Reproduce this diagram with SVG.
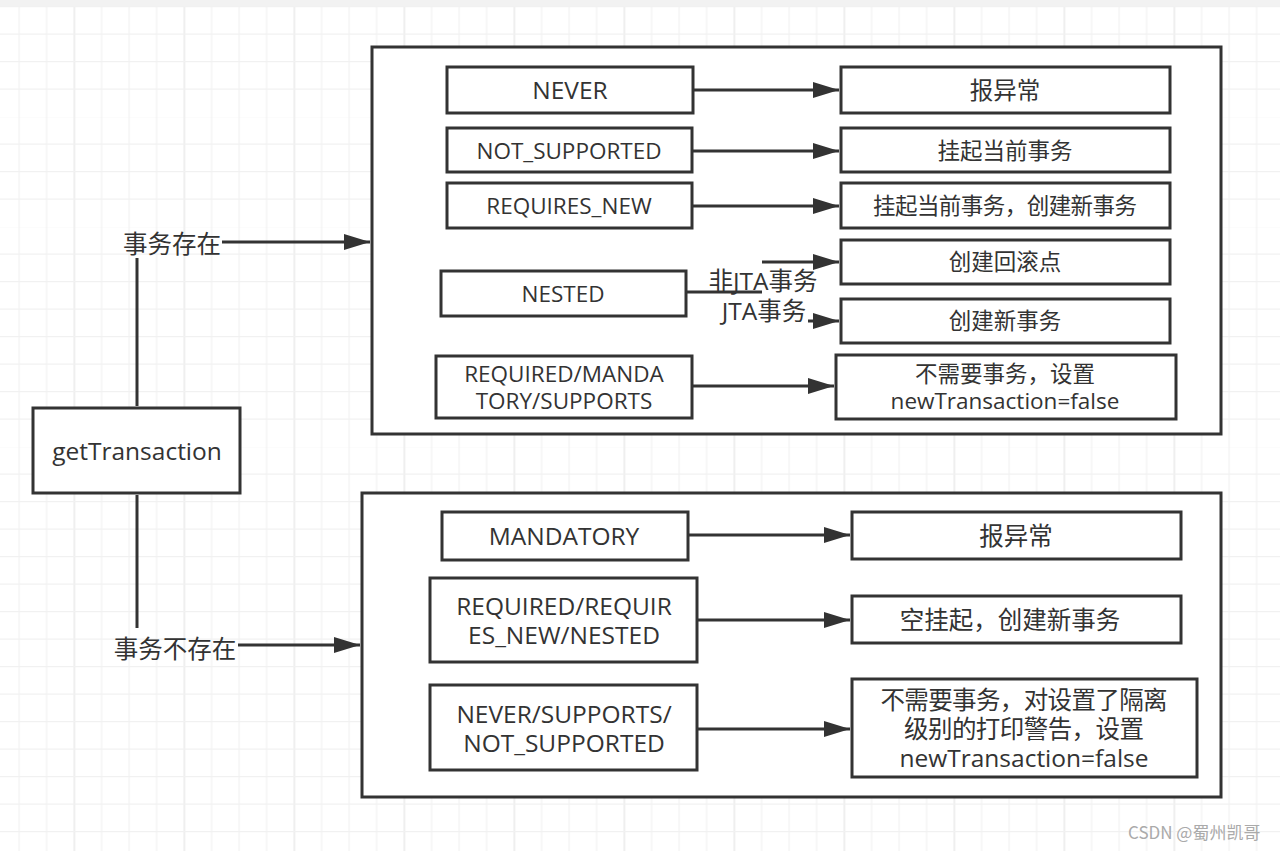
<svg xmlns="http://www.w3.org/2000/svg" width="1280" height="851" viewBox="0 0 1280 851">
<defs>
<pattern id="grid" patternUnits="userSpaceOnUse" x="18.5" y="6" width="110" height="110">
<rect x="0" y="0" width="110" height="110" fill="#ffffff"/>
<rect x="27.5" y="0" width="1.2" height="110" fill="#f1f1f1"/>
<rect x="55" y="0" width="1.6" height="110" fill="#ebebeb"/>
<rect x="82.5" y="0" width="1.2" height="110" fill="#f1f1f1"/>
<rect x="0" y="0" width="1.2" height="110" fill="#f1f1f1"/>
<rect x="0" y="27.5" width="110" height="1.2" fill="#f1f1f1"/>
<rect x="0" y="55" width="110" height="1.2" fill="#f1f1f1"/>
<rect x="0" y="82.5" width="110" height="1.2" fill="#f1f1f1"/>
<rect x="0" y="110" width="110" height="1.6" fill="#ebebeb"/>
<rect x="0" y="0" width="110" height="1.2" fill="#f1f1f1"/>
</pattern>
<marker id="arr" markerUnits="userSpaceOnUse" markerWidth="28" markerHeight="18" refX="26" refY="8" orient="auto">
<path d="M0,0 L26,8 L0,16 z" fill="#333333"/>
</marker>
</defs>
<style>
.box{fill:#ffffff;stroke:#333333;stroke-width:3}
.t{font-family:"Open Sans","Noto Sans CJK SC",sans-serif;font-size:22.5px;fill:#333333;text-anchor:middle}
.b{font-family:"Open Sans","Noto Sans CJK SC",sans-serif;font-size:24.5px;fill:#333333;text-anchor:middle}
.lbl{font-family:"Open Sans","Noto Sans CJK SC",sans-serif;font-size:24.5px;fill:#333333;text-anchor:middle}
.ln{fill:none;stroke:#333333;stroke-width:3}
.wm{font-family:"Noto Sans CJK SC",sans-serif;font-size:17px;fill:#aaaaaa}
</style>
<rect x="0" y="0" width="1280" height="851" fill="url(#grid)"/>
<rect x="0" y="0" width="1280" height="6" fill="#f2f2f2"/>

<g id="group-exists">
<rect class="box" x="372" y="47" width="849" height="387"/>
</g>
<g id="group-notexists">
<rect class="box" x="362" y="493" width="859" height="304"/>
</g>

<g id="getTransaction">
<rect class="box" x="33" y="408" width="207" height="85"/>
<text class="b" x="137" y="460">getTransaction</text>
</g>

<g id="never">
<rect class="box" x="447" y="67" width="246" height="46"/>
<text class="t" x="570" y="99" style="font-size:24.5px">NEVER</text>
</g>
<g id="never-result">
<rect class="box" x="841" y="67" width="329" height="46"/>
<text class="t" x="1005" y="99" style="font-size:23.5px">报异常</text>
</g>

<g id="not-supported">
<rect class="box" x="447" y="128" width="245" height="44"/>
<text class="t" x="569" y="159">NOT_SUPPORTED</text>
</g>
<g id="not-supported-result">
<rect class="box" x="841" y="128" width="329" height="44"/>
<text class="t" x="1005" y="159">挂起当前事务</text>
</g>

<g id="requires-new">
<rect class="box" x="447" y="183" width="245" height="45"/>
<text class="t" x="569" y="214">REQUIRES_NEW</text>
</g>
<g id="requires-new-result">
<rect class="box" x="841" y="183" width="329" height="45"/>
<text class="t" x="1005" y="214" textLength="264">挂起当前事务，创建新事务</text>
</g>

<g id="nested">
<rect class="box" x="441" y="271" width="245" height="45"/>
<text class="t" x="563" y="302">NESTED</text>
</g>
<g id="nested-savepoint">
<rect class="box" x="841" y="240" width="329" height="44"/>
<text class="t" x="1005" y="270">创建回滚点</text>
</g>
<g id="nested-new">
<rect class="box" x="841" y="299" width="329" height="44"/>
<text class="t" x="1005" y="329">创建新事务</text>
</g>

<g id="required-mandatory-supports">
<rect class="box" x="436" y="356" width="256" height="62"/>
<text class="t" x="564" y="382">REQUIRED/MANDA</text>
<text class="t" x="564" y="409">TORY/SUPPORTS</text>
</g>
<g id="required-result">
<rect class="box" x="836" y="355" width="340" height="64"/>
<text class="t" x="1005" y="382" textLength="180">不需要事务，设置</text>
<text class="t" x="1005" y="409">newTransaction=false</text>
</g>

<g id="mandatory">
<rect class="box" x="442" y="512" width="246" height="48"/>
<text class="b" x="564" y="545">MANDATORY</text>
</g>
<g id="mandatory-result">
<rect class="box" x="852" y="512" width="329" height="47"/>
<text class="b" x="1016" y="545">报异常</text>
</g>

<g id="required-requiresnew-nested">
<rect class="box" x="430" y="578" width="267" height="84"/>
<text class="b" x="564" y="615">REQUIRED/REQUIR</text>
<text class="b" x="564" y="644">ES_NEW/NESTED</text>
</g>
<g id="required-requiresnew-nested-result">
<rect class="box" x="852" y="596" width="329" height="47"/>
<text class="b" x="1010" y="629">空挂起，创建新事务</text>
</g>

<g id="never-supports-notsupported">
<rect class="box" x="430" y="685" width="267" height="85"/>
<text class="b" x="564" y="723">NEVER/SUPPORTS/</text>
<text class="b" x="564" y="752">NOT_SUPPORTED</text>
</g>
<g id="never-supports-notsupported-result">
<rect class="box" x="852" y="679" width="345" height="98"/>
<text class="b" x="1024" y="709" textLength="287">不需要事务，对设置了隔离</text>
<text class="b" x="1024" y="738" textLength="240">级别的打印警告，设置</text>
<text class="b" x="1024" y="767">newTransaction=false</text>
</g>

<g id="connectors">
<line class="ln" x1="137" y1="406" x2="137" y2="258"/>
<line class="ln" x1="222" y1="242" x2="370" y2="242" marker-end="url(#arr)"/>
<line class="ln" x1="137" y1="495" x2="137" y2="628"/>
<line class="ln" x1="238" y1="645" x2="360" y2="645" marker-end="url(#arr)"/>

<line class="ln" x1="693" y1="90" x2="839" y2="90" marker-end="url(#arr)"/>
<line class="ln" x1="692" y1="151" x2="839" y2="151" marker-end="url(#arr)"/>
<line class="ln" x1="692" y1="206" x2="839" y2="206" marker-end="url(#arr)"/>
<line class="ln" x1="686" y1="292" x2="762" y2="292"/>
<line class="ln" x1="762" y1="262" x2="839" y2="262" marker-end="url(#arr)"/>
<line class="ln" x1="808" y1="321" x2="839" y2="321" marker-end="url(#arr)"/>
<line class="ln" x1="692" y1="386" x2="834" y2="386" marker-end="url(#arr)"/>

<line class="ln" x1="688" y1="535" x2="850" y2="535" marker-end="url(#arr)"/>
<line class="ln" x1="697" y1="620" x2="850" y2="620" marker-end="url(#arr)"/>
<line class="ln" x1="697" y1="729" x2="850" y2="729" marker-end="url(#arr)"/>

<text class="lbl" x="172" y="253">事务存在</text>
<text class="lbl" x="175" y="658">事务不存在</text>
<text class="lbl" x="763" y="290">非JTA事务</text>
<text class="lbl" x="764" y="320">JTA事务</text>
</g>

<text class="wm" x="1128" y="839">CSDN @蜀州凯哥</text>
</svg>
